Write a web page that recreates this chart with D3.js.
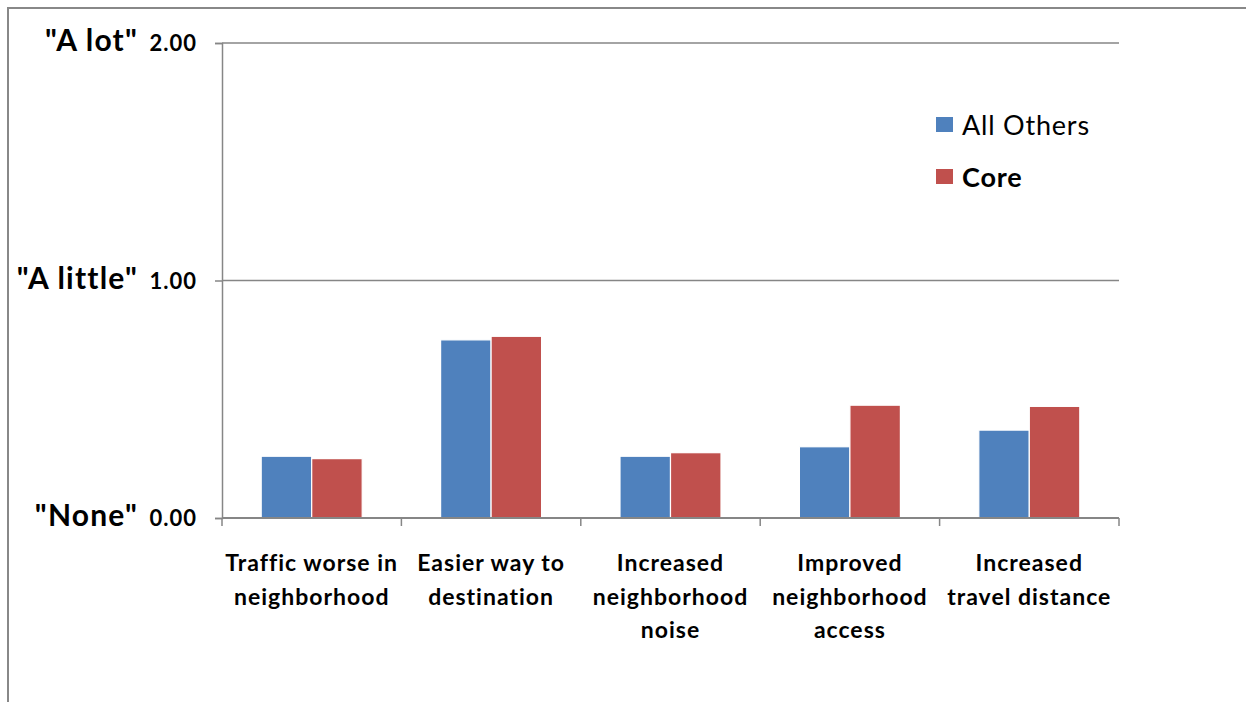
<!DOCTYPE html>
<html>
<head>
<meta charset="utf-8">
<script src="https://cdn.jsdelivr.net/npm/d3@7"></script>
<style>
  body { margin: 0; background: #fff; }
  text { font-family: Lato, "Open Sans", sans-serif; fill: #000; }
</style>
</head>
<body>
<script>
const categories = [
  ["Traffic worse in", "neighborhood"],
  ["Easier way to", "destination"],
  ["Increased", "neighborhood", "noise"],
  ["Improved", "neighborhood", "access"],
  ["Increased", "travel distance"]
];
const seriesNames = ["All Others", "Core"];
const allOthers = [0.26, 0.75, 0.26, 0.30, 0.37];
const core = [0.25, 0.765, 0.275, 0.475, 0.47];
const tickValues = [0, 1, 2];
const tickWords = ['"None"', '"A little"', '"A lot"'];
const colors = ["#4f81bd", "#c0504d"];

const W = 1246, H = 702;
const margin = {top: 43, right: 127, bottom: 184, left: 222};

const svg = d3.select("body").append("svg")
  .attr("width", W)
  .attr("height", H);

// outer frame (left and top edges only visible)
svg.append("path")
  .attr("d", `M8,${H} V8 H${W}`)
  .attr("fill", "none")
  .attr("stroke", "#888")
  .attr("stroke-width", 2);

const x0 = d3.scaleBand()
  .domain(d3.range(categories.length))
  .range([margin.left, W - margin.right]);

const x1 = d3.scaleBand()
  .domain(seriesNames)
  .range([-50.5, 50.5]);

const y = d3.scaleLinear()
  .domain([0, 2])
  .range([H - margin.bottom, margin.top]);

// gridlines
svg.append("g")
  .selectAll("line")
  .data(tickValues.filter(d => d > 0))
  .join("line")
    .attr("x1", margin.left)
    .attr("x2", W - margin.right)
    .attr("y1", d => y(d))
    .attr("y2", d => y(d))
    .attr("stroke", "#868686")
    .attr("stroke-width", 1.5);

// bars
const rows = categories.map((c, i) => ({i, values: [allOthers[i], core[i]]}));
const group = svg.append("g")
  .selectAll("g")
  .data(rows)
  .join("g")
    .attr("transform", d => `translate(${x0(d.i) + x0.bandwidth() / 2},0)`);

group.selectAll("rect")
  .data(d => d.values.map((v, j) => ({name: seriesNames[j], v, j})))
  .join("rect")
    .attr("x", d => x1(d.name))
    .attr("width", x1.bandwidth())
    .attr("y", d => y(d.v))
    .attr("height", d => y(0) - y(d.v))
    .attr("fill", d => colors[d.j])
    .attr("stroke", "#fff")
    .attr("stroke-width", 1.2);

// y axis
const yAxis = svg.append("g")
  .attr("transform", `translate(${margin.left},0)`)
  .call(d3.axisLeft(y).tickValues(tickValues).tickFormat(d3.format(".2f")).tickSize(7).tickPadding(18));
yAxis.select(".domain").attr("stroke", "#868686").attr("stroke-width", 1.5);
yAxis.selectAll(".tick line").attr("stroke", "#868686").attr("stroke-width", 1.5);
yAxis.selectAll(".tick text")
  .attr("font-size", 22)
  .attr("font-weight", "bold")
  .attr("font-family", "Lato, sans-serif")
  .attr("letter-spacing", 1)
  .attr("dy", "0.36em");

// quoted scale words
svg.append("g")
  .selectAll("text")
  .data(tickValues)
  .join("text")
    .attr("x", 138)
    .attr("y", d => y(d) + 8)
    .attr("text-anchor", "end")
    .attr("font-size", 30)
    .attr("font-weight", "bold")
    .attr("letter-spacing", 1.2)
    .text((d, i) => tickWords[i]);

// x axis
const xAxisY = y(0);
svg.append("line")
  .attr("x1", margin.left).attr("x2", W - margin.right)
  .attr("y1", xAxisY).attr("y2", xAxisY)
  .attr("stroke", "#868686").attr("stroke-width", 2);
svg.append("g")
  .selectAll("line")
  .data(d3.range(categories.length + 1))
  .join("line")
    .attr("x1", i => i < categories.length ? x0(i) : x0(i - 1) + x0.bandwidth())
    .attr("x2", i => i < categories.length ? x0(i) : x0(i - 1) + x0.bandwidth())
    .attr("y1", xAxisY)
    .attr("y2", xAxisY + 8)
    .attr("stroke", "#868686")
    .attr("stroke-width", 1.5);

// category labels
const labels = svg.append("g")
  .selectAll("text")
  .data(categories)
  .join("text")
    .attr("x", (d, i) => x0(i) + x0.bandwidth() / 2)
    .attr("y", 571)
    .attr("text-anchor", "middle")
    .attr("font-size", 23)
    .attr("font-weight", "bold")
    .attr("letter-spacing", 1);
labels.selectAll("tspan")
  .data(d => d)
  .join("tspan")
    .attr("x", function() { return this.parentNode.getAttribute("x"); })
    .attr("dy", (d, i) => i === 0 ? 0 : 33.5)
    .text(d => d);

// legend
const legend = svg.append("g")
  .selectAll("g")
  .data(seriesNames)
  .join("g")
    .attr("transform", (d, i) => `translate(936,${117 + i * 52})`);
legend.append("rect")
  .attr("width", 17)
  .attr("height", 15)
  .attr("fill", (d, i) => colors[i]);
legend.append("text")
  .attr("x", 26)
  .attr("y", 18)
  .attr("font-size", 27)
  .attr("font-weight", (d, i) => i === 1 ? "bold" : "normal")
  .attr("letter-spacing", 0.8)
  .text(d => d);
</script>
</body>
</html>
